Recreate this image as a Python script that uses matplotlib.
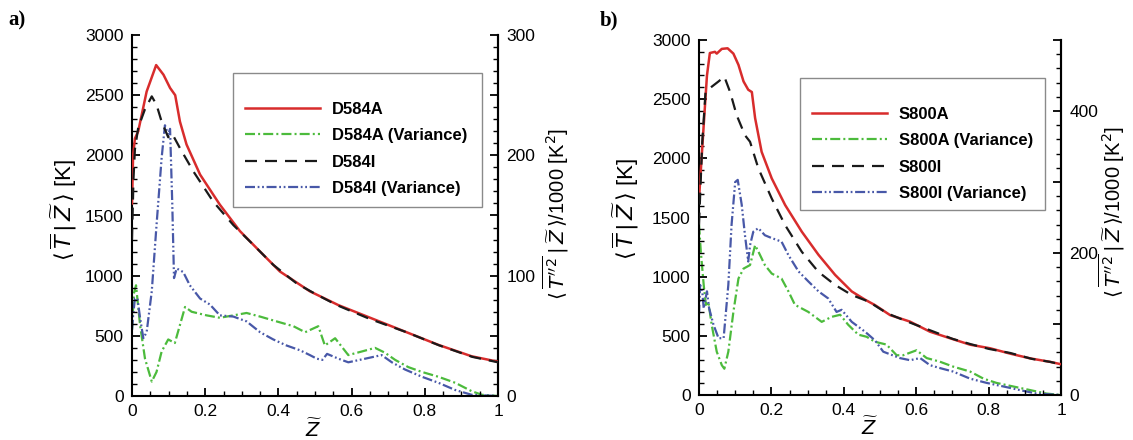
import matplotlib
matplotlib.use('Agg')
import matplotlib.pyplot as plt
from matplotlib.ticker import MultipleLocator, FuncFormatter
from matplotlib.patches import Rectangle

plt.rcParams['font.family'] = ['Liberation Sans', 'DejaVu Sans']
plt.rcParams['mathtext.fontset'] = 'dejavusans'

# ---- Daten Panel a (D584) ----
# Temperatur [K] (linke Achse)
za_red = [0.0, 0.003, 0.008, 0.017, 0.040, 0.066, 0.086, 0.104, 0.118, 0.131, 0.149, 0.186,
          0.240, 0.295, 0.350, 0.404, 0.486, 0.564, 0.655, 0.746, 0.837, 0.928, 1.0]
ta_red = [1600, 2000, 2140, 2200, 2530, 2750, 2670, 2560, 2500, 2280, 2090, 1840,
          1590, 1370, 1200, 1035, 870, 755, 645, 535, 425, 330, 285]
za_blk = [0.0, 0.004, 0.008, 0.017, 0.035, 0.054, 0.067, 0.081, 0.099, 0.108, 0.115, 0.131,
          0.168, 0.222, 0.277, 0.332, 0.386, 0.450, 0.50, 0.56, 0.65, 0.75, 0.84, 0.93, 1.0]
ta_blk = [1300, 1800, 2050, 2230, 2380, 2490, 2420, 2280, 2150, 2180, 2150, 2060,
          1865, 1615, 1420, 1255, 1090, 935, 850, 755, 640, 530, 420, 325, 280]
# Varianz/1000 [K^2] (rechte Achse)
za_grn = [0.0, 0.005, 0.011, 0.022, 0.0355, 0.054, 0.067, 0.081, 0.099, 0.117, 0.131, 0.145,
          0.163, 0.204, 0.240, 0.277, 0.313, 0.350, 0.395, 0.441, 0.473, 0.509, 0.527, 0.555,
          0.591, 0.628, 0.664, 0.691, 0.719, 0.755, 0.792, 0.837, 0.883, 0.928, 0.956, 1.0]
va_grn = [55, 85, 92, 59, 31, 12, 20, 37, 47, 44, 59, 74,
          70, 67, 65, 67, 69, 66, 62, 58, 53, 58, 42, 48,
          34, 37, 40, 36, 30, 24, 20, 16, 11, 4, 1, 0]
za_blu = [0.0, 0.003, 0.008, 0.015, 0.022, 0.031, 0.040, 0.054, 0.067, 0.081, 0.090, 0.099,
          0.104, 0.110, 0.1148, 0.122, 0.140, 0.158, 0.186, 0.213, 0.240, 0.277, 0.313, 0.350,
          0.386, 0.422, 0.459, 0.486, 0.505, 0.52, 0.533, 0.564, 0.591, 0.637, 0.682, 0.710,
          0.746, 0.792, 0.837, 0.883, 0.928, 1.0]
va_blu = [55, 67, 81, 81, 65, 48, 53, 87, 142, 198, 225, 217,
          222, 160, 98, 106, 103, 92, 81, 76, 67, 66, 62, 53,
          47, 42, 38, 34, 31, 30, 35, 31, 28, 31, 34, 28,
          22, 16, 11, 5, 1, 0]

# ---- Daten Panel b (S800) ----
zb_red = [0.0, 0.003, 0.013, 0.022, 0.030, 0.044, 0.049, 0.063, 0.079, 0.095, 0.109, 0.123,
          0.136, 0.146, 0.155, 0.173, 0.201, 0.238, 0.284, 0.330, 0.376, 0.422, 0.459, 0.486,
          0.528, 0.583, 0.638, 0.693, 0.749, 0.804, 0.859, 0.914, 0.970, 1.0]
tb_red = [1650, 1800, 2280, 2700, 2890, 2900, 2885, 2925, 2930, 2885, 2790, 2650,
          2580, 2560, 2340, 2055, 1830, 1605, 1380, 1185, 1015, 875, 805, 760,
          675, 620, 535, 480, 425, 395, 350, 310, 280, 260]
zb_blk = [0.0, 0.009, 0.018, 0.035, 0.054, 0.070, 0.086, 0.104, 0.127, 0.141, 0.164, 0.201,
          0.238, 0.284, 0.330, 0.376, 0.422, 0.468, 0.52, 0.58, 0.64, 0.70, 0.75, 0.80,
          0.86, 0.92, 0.97, 1.0]
tb_blk = [1440, 2140, 2560, 2605, 2650, 2690, 2560, 2365, 2195, 2140, 1915, 1660,
          1435, 1210, 1040, 930, 845, 790, 690, 615, 545, 475, 430, 390,
          355, 305, 280, 258]
zb_grn = [0.0, 0.005, 0.013, 0.019, 0.026, 0.035, 0.049, 0.063, 0.070, 0.081, 0.095, 0.109,
          0.123, 0.141, 0.155, 0.164, 0.182, 0.201, 0.228, 0.247, 0.265, 0.302, 0.339, 0.366,
          0.390, 0.412, 0.440, 0.463, 0.486, 0.518, 0.546, 0.564, 0.601, 0.629, 0.665, 0.702,
          0.749, 0.786, 0.822, 0.868, 0.914, 0.960, 1.0]
vb_grn = [240, 202, 155, 127, 131, 99, 61, 42, 37, 61, 117, 164,
          178, 183, 211, 202, 183, 171, 164, 146, 127, 117, 103, 110,
          113, 99, 85, 82, 75, 71, 56, 56, 63, 52, 47, 40,
          33, 23, 17, 12, 7, 2, 0]
zb_blu = [0.0, 0.003, 0.009, 0.013, 0.022, 0.028, 0.040, 0.054, 0.068, 0.081, 0.090, 0.100,
          0.107, 0.118, 0.127, 0.136, 0.141, 0.150, 0.164, 0.182, 0.201, 0.228, 0.247, 0.275,
          0.302, 0.330, 0.357, 0.380, 0.394, 0.422, 0.459, 0.486, 0.509, 0.555, 0.583, 0.611,
          0.638, 0.665, 0.702, 0.749, 0.795, 0.841, 0.886, 0.932, 1.0]
vb_blu = [113, 155, 146, 122, 146, 122, 99, 80, 80, 155, 240, 300,
          303, 268, 225, 188, 211, 230, 235, 225, 221, 216, 197, 174,
          160, 146, 136, 117, 120, 103, 89, 77, 61, 52, 49, 52,
          42, 38, 33, 23, 17, 12, 7, 2, 0]

labels_a = ['D584A', 'D584A (Variance)', 'D584I', 'D584I (Variance)']
labels_b = ['S800A', 'S800A (Variance)', 'S800I', 'S800I (Variance)']

c_red = '#d82c2c'
c_grn = '#4cbb3c'
c_blk = '#1a1a1a'
c_blu = '#4858a8'
lw = 1.6
st_red = dict(color=c_red, lw=1.8, ls='-')
st_grn = dict(color=c_grn, lw=lw, dashes=(4.5, 1.4, 0.9, 1.4))
st_blk = dict(color=c_blk, lw=lw, dashes=(5.4, 3.6))
st_blu = dict(color=c_blu, lw=lw, dashes=(4.5, 1.2, 0.8, 1.2, 0.8, 1.2))

W, H = 1133, 440
fig = plt.figure(figsize=(W / 100, H / 100), dpi=100)


def px(x0, y0, x1, y1):
    return [x0 / W, 1 - y1 / H, (x1 - x0) / W, (y1 - y0) / H]


def style_axes(ax, ax2, vmax, vmaj, vmin, vlab):
    ax.set_xlim(0, 1)
    ax.set_ylim(0, 3000)
    ax2.set_ylim(0, vmax)
    ax.xaxis.set_major_locator(MultipleLocator(0.2))
    ax.xaxis.set_minor_locator(MultipleLocator(0.05))
    ax.yaxis.set_major_locator(MultipleLocator(500))
    ax.yaxis.set_minor_locator(MultipleLocator(100))
    ax2.yaxis.set_major_locator(MultipleLocator(vmaj))
    ax2.yaxis.set_minor_locator(MultipleLocator(vmin))
    ax2.yaxis.set_major_formatter(FuncFormatter(
        lambda v, p: f'{v:.0f}' if abs(v % vlab) < 1e-6 else ''))
    ax.xaxis.set_major_formatter(FuncFormatter(
        lambda v, p: '0' if v == 0 else ('1' if abs(v - 1) < 1e-9 else f'{v:.1f}')))
    for a in (ax, ax2):
        a.spines['top'].set_visible(False)
        for s in a.spines.values():
            s.set_linewidth(1.5)
        a.tick_params(which='major', direction='in', length=6, width=1.3, labelsize=12.5, pad=6)
        a.tick_params(which='minor', direction='in', length=3.5, width=1.0)
    ax2.spines['left'].set_visible(False)
    ax2.spines['bottom'].set_visible(False)


def legend_box(ax, lines, labels, box):
    x0, y0, x1, y1 = box
    ax.add_patch(Rectangle((x0 / W, 1 - y1 / H), (x1 - x0) / W, (y1 - y0) / H,
                           transform=fig.transFigure, facecolor='white',
                           edgecolor='#8a8a8a', lw=1.0, zorder=8, clip_on=False))
    leg = ax.legend(lines, labels, loc='upper left',
                    bbox_to_anchor=((x0 + 12) / W, 1 - (y0 + 29) / H),
                    bbox_transform=fig.transFigure, frameon=False,
                    prop=dict(family='Liberation Sans', weight='bold', size=12),
                    handlelength=4.5, handletextpad=0.7, labelspacing=0.68,
                    borderpad=0, borderaxespad=0)
    leg.set_zorder(9)


ylab_t = r'$\langle\,\overline{T}\,|\,\widetilde{Z}\,\rangle$ [K]'
ylab_v = r"$\langle\,\overline{T''^{2}}\,|\,\widetilde{Z}\,\rangle$/1000 [K$^2$]"

panels = [
    dict(ax=px(132, 35, 498, 396), data=(za_red, ta_red, za_grn, va_grn, za_blk, ta_blk, za_blu, va_blu),
         labels=labels_a, vmax=300, vmaj=50, vmin=10, vlab=100, box=(233, 73, 482, 207),
         tag='a)', tagpos=(8, 20), xlx=0.495, ylx=-0.145, yly=0.515, y2x=1.115, y2y=0.505),
    dict(ax=px(699, 40, 1061, 395), data=(zb_red, tb_red, zb_grn, vb_grn, zb_blk, tb_blk, zb_blu, vb_blu),
         labels=labels_b, vmax=500, vmaj=100, vmin=20, vlab=200, box=(800, 78, 1045, 210),
         tag='b)', tagpos=(600, 20), xlx=0.472, ylx=-0.16, yly=0.525, y2x=1.099, y2y=0.515),
]

for p in panels:
    ax = fig.add_axes(p['ax'])
    ax2 = ax.twinx()
    zr, tr, zg, vg, zk, tk, zu, vu = p['data']
    l1, = ax.plot(zr, tr, **st_red, zorder=4)
    l2, = ax2.plot(zg, vg, **st_grn, zorder=3)
    l3, = ax.plot(zk, tk, **st_blk, zorder=5)
    l4, = ax2.plot(zu, vu, **st_blu, zorder=3)
    ax.set_zorder(ax2.get_zorder() + 1)
    ax.patch.set_visible(False)
    style_axes(ax, ax2, p['vmax'], p['vmaj'], p['vmin'], p['vlab'])

    ax.set_xlabel(r'$\widetilde{Z}$', fontsize=14)
    ax.xaxis.set_label_coords(p['xlx'], -0.062)
    ax.set_ylabel(ylab_t, fontsize=16)
    ax.yaxis.set_label_coords(p['ylx'], p['yly'])
    ax2.set_ylabel(ylab_v, fontsize=14.5)
    ax2.yaxis.set_label_coords(p['y2x'], p['y2y'])

    legend_box(ax, [l1, l2, l3, l4], p['labels'], p['box'])
    fig.text(p['tagpos'][0] / W, 1 - p['tagpos'][1] / H, p['tag'], family='Liberation Serif',
             weight='bold', fontsize=15, va='center', ha='left')

fig.savefig('out.png', dpi=100)
